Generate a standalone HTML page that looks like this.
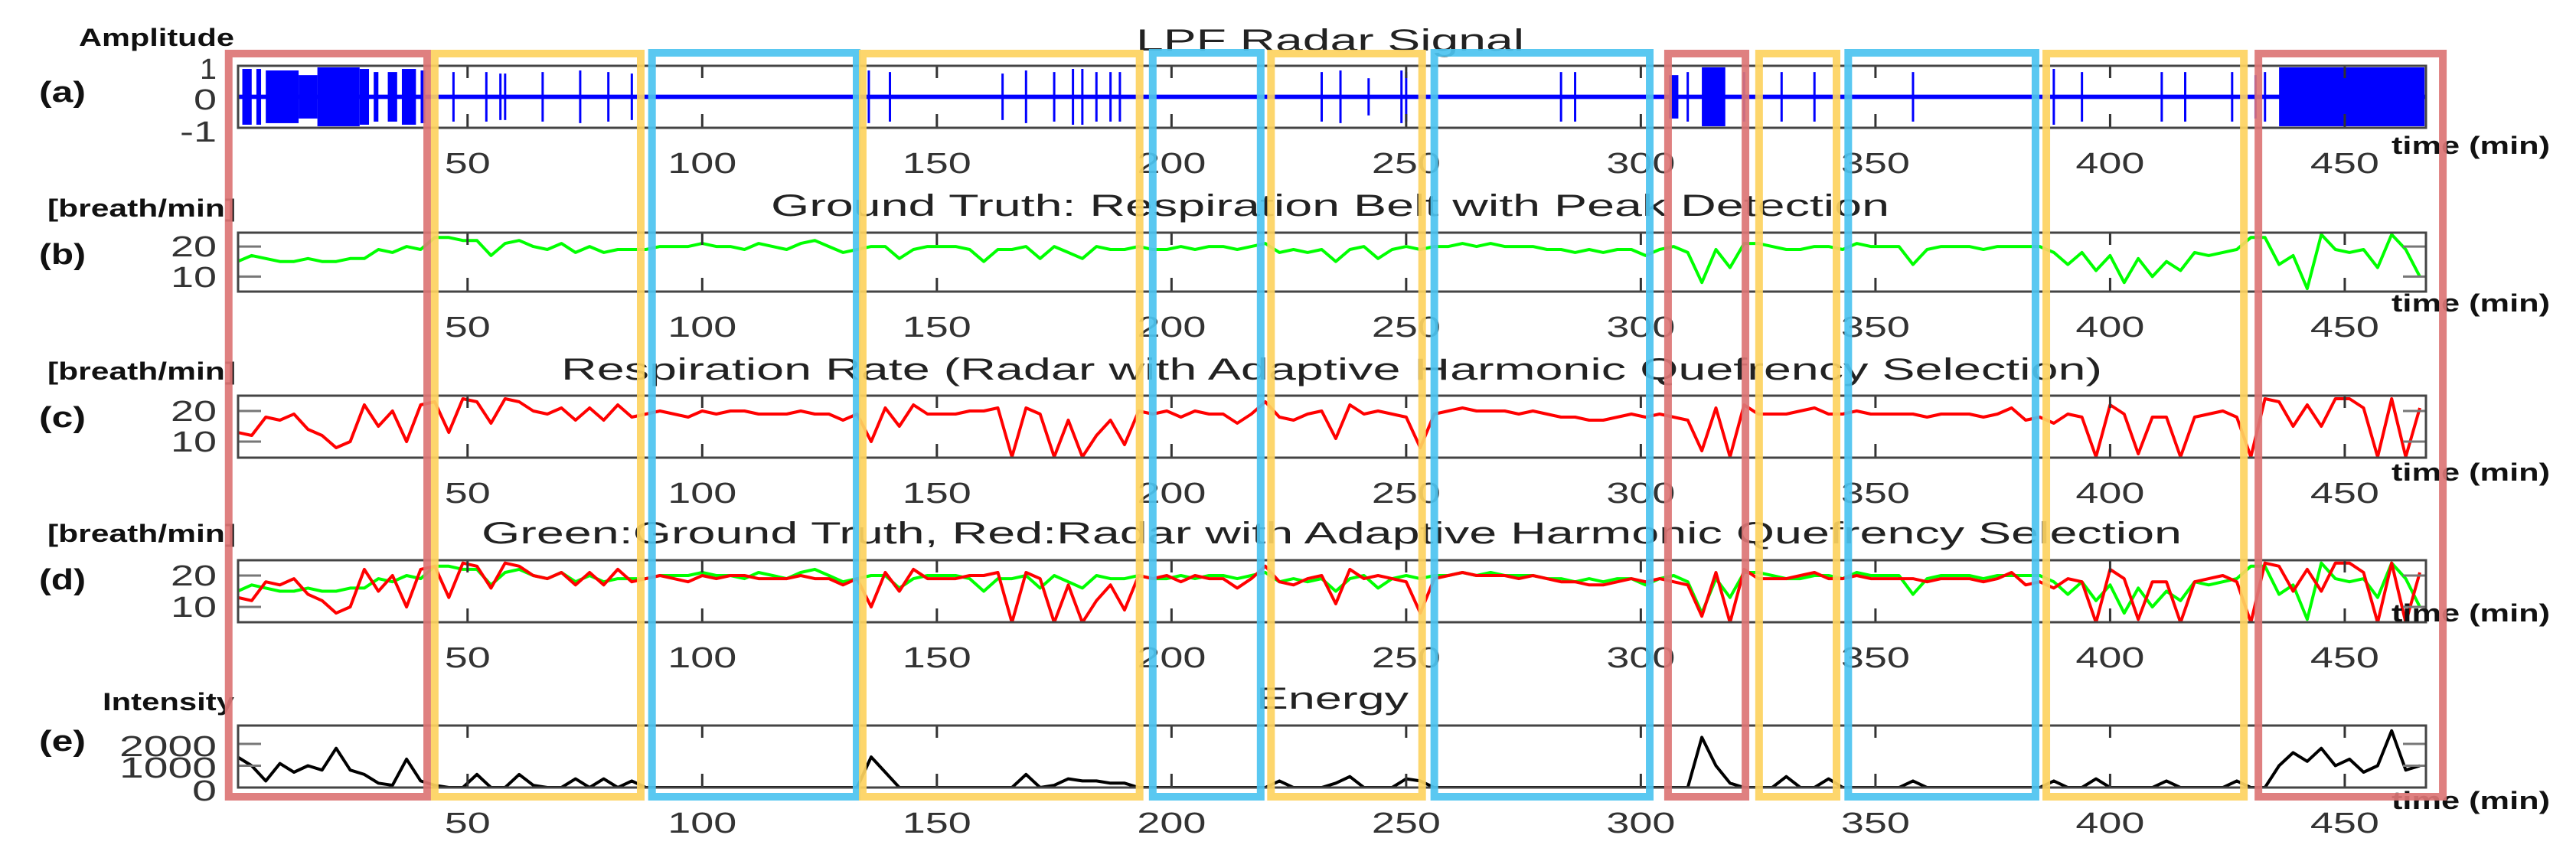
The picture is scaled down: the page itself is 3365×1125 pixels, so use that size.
<!DOCTYPE html>
<html><head><meta charset="utf-8"><title>Radar respiration comparison</title>
<style>html,body{margin:0;padding:0;background:#fff}svg{display:block}</style></head>
<body>
<svg id="chart" xmlns="http://www.w3.org/2000/svg" width="3365" height="1125" viewBox="0 0 3365 1125" font-family="'Liberation Sans', sans-serif"></svg>
<script>
const t0 = 1, dt = 3;
const xTicks = [50,100,150,200,250,300,350,400,450];
const groundTruth = [
15,17,16,15,15,16,15,15,16,16, 19,18,20,19,23,23,22,22,17,21,
22,20,19,21,18,20,18,19,19,19, 20,20,20,21,20,20,19,21,20,19,
21,22,20,18,19,20,20,16,19,20, 20,20,19,15,19,19,20,16,20,18,
16,20,19,19,20,19,19,20,19,20, 20,19,20,21,18,19,18,19,15,19,
20,16,19,20,19,20,20,21,20,21, 20,20,20,19,19,18,19,18,19,19,
17,19,20,18,8,19,13,21,21,20, 19,19,20,20,19,21,20,20,20,14,
19,20,20,20,19,20,20,20,20,18, 14,18,12,17,8,16,10,15,12,18,
17,18,19,23,23,14,17,6,24,19, 18,19,13,24,19,10];
const radarRate = [
13,12,18,17,19,14,12,8,10,22, 15,20,10,22,23,13,24,23,16,24,
23,20,19,21,17,21,17,22,18,19, 20,19,18,20,19,20,20,19,19,19,
20,19,19,17,19,10,21,15,22,19, 19,19,20,20,21,5,21,19,5,17,
5,12,17,9,20,19,20,18,20,19, 19,16,19,23,18,17,19,20,11,22,
19,20,19,18,8,19,20,21,20,20, 20,19,20,19,18,18,17,17,18,19,
18,19,18,17,7,21,5,22,19,19, 19,20,21,19,19,20,19,19,19,19,
18,19,19,19,18,19,21,17,18,16, 19,18,5,22,19,6,18,18,5,18,
19,20,18,5,24,23,15,22,15,24, 24,21,5,24,5,21];
const energy = [
1400,1000,300,1100,700,1000,800,1800,800,600, 200,100,1300,300,100,0,0,600,0,0,
600,100,0,0,400,0,400,0,300,0, 0,0,0,0,0,0,0,0,0,0,
0,0,0,0,0,1400,700,0,0,0, 0,0,0,0,0,0,600,0,100,400,
300,300,200,200,0,0,0,0,0,0, 0,0,0,0,300,0,0,0,200,500,
0,0,0,400,300,0,0,0,0,0, 0,0,0,0,0,0,0,0,0,0,
0,0,0,0,2300,1000,200,0,0,0, 500,0,0,400,0,0,0,0,0,300,
0,0,0,0,0,0,0,0,0,300, 0,0,400,0,0,0,0,300,0,0,
0,0,300,0,0,1000,1600,1200,1800,1000, 1300,700,1000,2600,800,1000];
const burstStart = [2,5,7,14,18,27,30,33,36,40,306,313,436];
const burstEnd   = [4,6,14,18,27,29,31,35,39,41,308,318,467];
const burstAmp   = [0.9,0.9,0.85,0.7,0.95,0.9,0.8,0.8,0.9,0.85,0.7,0.95,0.95];
const spikeTimes = [47,54,57,58,66,74,80,85,135.5,140,164,169,175,179,181,184,187,189,232,236,242,249,250,283,286,310,322,330,337,358,388,394,411,416,426,431,433];
const spikeAmps  = [0.8,0.8,0.75,0.75,0.8,0.85,0.8,0.75,0.85,0.8,0.75,0.85,0.8,0.9,0.9,0.8,0.8,0.8,0.8,0.85,0.6,0.85,0.8,0.8,0.8,0.8,0.8,0.8,0.8,0.8,0.9,0.8,0.8,0.8,0.8,0.7,0.8];
const boxStart = [-0.9,43,89.3,134.2,196,221.2,256,305.8,325.2,344.2,386.4,431.6];
const boxEnd   = [41.4,86.9,132.9,193.2,219,253.4,301.9,322.3,341.7,384.1,428.5,470.9];
const boxKind  = ['red','yellow','blue','yellow','blue','yellow','blue','red','yellow','blue','yellow','red'];

const NS='http://www.w3.org/2000/svg';
const svg=document.getElementById('chart');
const X0=311, X1=3169, TMIN=1.1, TMAX=467.3;
const xs=t=>X0+(t-TMIN)/(TMAX-TMIN)*(X1-X0);
function mk(tag,attrs,parent){const e=document.createElementNS(NS,tag);for(const k in attrs)e.setAttribute(k,attrs[k]);(parent||svg).appendChild(e);return e;}
function txt(s,x,y,size,len,anchor,weight,fill,parent){const e=mk('text',{x:x,y:y,'font-size':size,'text-anchor':anchor||'start','font-weight':weight||'normal',fill:fill||'#222',textLength:len,lengthAdjust:'spacingAndGlyphs'},parent);e.textContent=s;return e;}

const panels=[
 {id:'a',top:86,bot:167,lo:-1,hi:1,yt:[1,0,-1],yl:['1','0','-1'],ylY:[90,130,172],ylW:[22,30,48],ytick:false,unit:'Amplitude',uX:103,uY:60,uW:203,lab:120,title:'LPF Radar Signal',tX:1484,tY:66,tW:507,timeY:201},
 {id:'b',top:304,bot:381,lo:5,hi:24.6,yt:[20,10],yl:['20','10'],ylY:[322,362],ylW:[60,60],ytick:true,unit:'[breath/min]',uX:62,uY:283,uW:246,lab:332,title:'Ground Truth: Respiration Belt with Peak Detection',tX:1007,tY:282,tW:1461,timeY:407},
 {id:'c',top:517,bot:598,lo:4.75,hi:25,yt:[20,10],yl:['20','10'],ylY:[537,577],ylW:[60,60],ytick:true,unit:'[breath/min]',uX:62,uY:496,uW:246,lab:545,title:'Respiration Rate (Radar with Adaptive Harmonic Quefrency Selection)',tX:733,tY:496,tW:2013,timeY:628},
 {id:'d',top:732,bot:813,lo:5.1,hi:24.9,yt:[20,10],yl:['20','10'],ylY:[752,793],ylW:[60,60],ytick:true,unit:'[breath/min]',uX:62,uY:708,uW:246,lab:757,title:'Green:Ground Truth, Red:Radar with Adaptive Harmonic Quefrency Selection',tX:629,tY:710,tW:2221,timeY:812},
 {id:'e',top:948,bot:1029,lo:0,hi:2840,yt:[2000,1000,0],yl:['2000','1000','0'],ylY:[975,1003,1033],ylW:[127,127,32],ytick:true,unit:'Intensity',uX:134,uY:928,uW:172,lab:968,title:'Energy',tX:1641,tY:926,tW:199,timeY:1057}
];

function linePath(vals,ys){let d='';vals.forEach((v,i)=>{d+=(i?'L':'M')+xs(t0+i*dt).toFixed(1)+' '+ys(v).toFixed(1);});return d;}

panels.forEach(p=>{
  const g=mk('g',{});
  
  
  const ys=v=>p.bot-(v-p.lo)/(p.hi-p.lo)*(p.bot-p.top);
  const clip=mk('clipPath',{id:'clip'+p.id},g);
  mk('rect',{x:X0,y:p.top,width:X1-X0,height:p.bot-p.top},clip);
  const plot=mk('g',{'clip-path':'url(#clip'+p.id+')'},g);
  
  
  if(p.id==='a'){
    const base=mk('rect',{x:X0,y:ys(0.07),width:X1-X0,height:ys(-0.07)-ys(0.07),fill:'#0000ff'},plot);
    
    
    burstStart.forEach((s,i)=>{
      const r=mk('rect',{x:xs(s),y:ys(burstAmp[i]),width:Math.max(2,xs(burstEnd[i])-xs(s)),height:ys(-burstAmp[i])-ys(burstAmp[i]),fill:'#0000ff'},plot);
      
      
    });
    spikeTimes.forEach((s,i)=>{
      const l=mk('line',{x1:xs(s),x2:xs(s),y1:ys(spikeAmps[i]),y2:ys(-spikeAmps[i]),stroke:'#0000ff','stroke-width':3},plot);
      
      
    });
  }
  if(p.id==='b'||p.id==='d'){
    const l=mk('path',{d:linePath(groundTruth,ys),fill:'none',stroke:'#00ff00','stroke-width':4,'stroke-linejoin':'round'},plot);
    
    
  }
  if(p.id==='c'||p.id==='d'){
    const l=mk('path',{d:linePath(radarRate,ys),fill:'none',stroke:'#ff0000','stroke-width':4,'stroke-linejoin':'round'},plot);
    
    
  }
  if(p.id==='e'){
    const l=mk('path',{d:linePath(energy,ys),fill:'none',stroke:'#000','stroke-width':4,'stroke-linejoin':'round'},plot);
    
    
  }
  // ticks
  xTicks.forEach(t=>{
    const x=xs(t);
    mk('line',{x1:x,x2:x,y1:p.top,y2:p.top+16,stroke:'#333','stroke-width':3},g);
    mk('line',{x1:x,x2:x,y1:p.bot,y2:p.bot-18,stroke:'#333','stroke-width':3},g);
    const lb=txt(String(t),x,p.bot+59,38,String(t).length*30,'middle','normal','#333',g);
    
    
  });
  p.yt.forEach((v,i)=>{
    if(p.ytick){
      mk('line',{x1:X0,x2:X0+30,y1:ys(v),y2:ys(v),stroke:'#777','stroke-width':3},g);
      mk('line',{x1:X1-30,x2:X1,y1:ys(v),y2:ys(v),stroke:'#777','stroke-width':3},g);
    }
    const lb=txt(p.yl[i],283,p.ylY[i]+13,38,p.ylW[i],'end','normal','#333',g);
    
    
  });
  const frame=mk('rect',{x:X0,y:p.top,width:X1-X0,height:p.bot-p.top,fill:'none',stroke:'#444','stroke-width':3},g);
  
  
  const ti=txt(p.title,p.tX,p.tY,40,p.tW,'start','normal','#222',g);
  
  
  const un=txt(p.unit,p.uX,p.uY,32,p.uW,'start','bold','#111',g);
  
  
  const pl=txt('('+p.id+')',51,p.lab+13,38,61,'start','bold','#111',g);
  
  
  const tm=txt('time (min)',3124,p.timeY,32,207,'start','bold','#111',g);
  
  
});

const colors={red:'#dc7575',yellow:'#fdd35f',blue:'#4cc3f0'};
const boxTop={red:70,yellow:70,blue:69};
boxStart.forEach((s,i)=>{
  const x1=xs(s), x2=xs(boxEnd[i]);
  const r=mk('rect',{x:x1,y:boxTop[boxKind[i]],width:x2-x1,height:1041-boxTop[boxKind[i]],fill:'none',stroke:colors[boxKind[i]],'stroke-width':10,opacity:0.92});
  
  
});
</script>
</body></html>
